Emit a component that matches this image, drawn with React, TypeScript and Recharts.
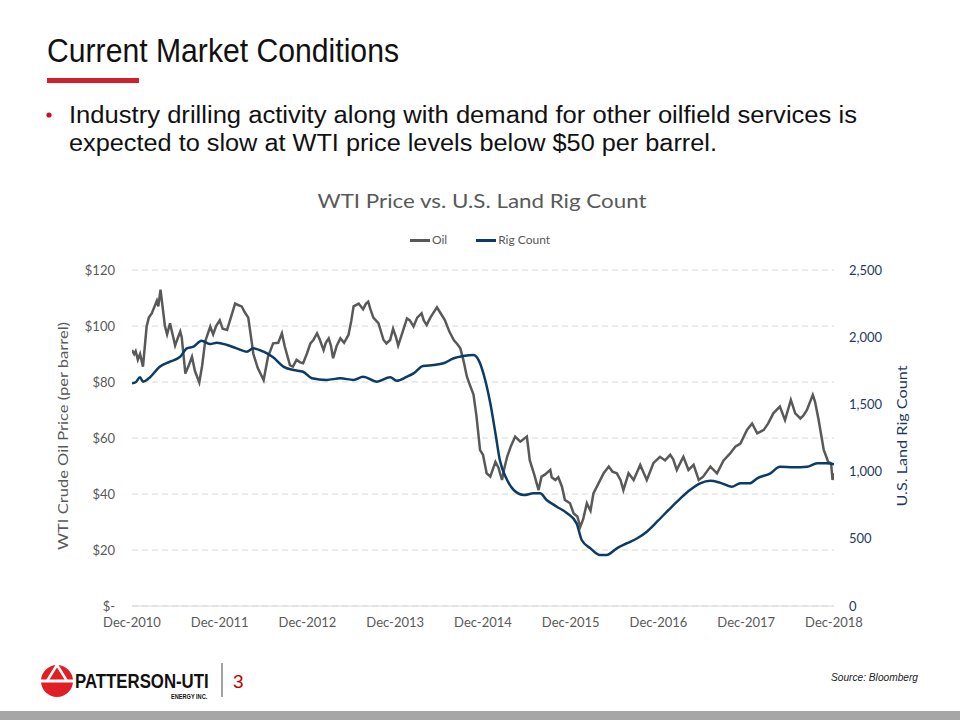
import React from "react";
import { LineChart, Line, XAxis, YAxis, CartesianGrid, Legend } from "recharts";

// x values are months since Dec-2010
const xTickLabels = ["Dec-2010", "Dec-2011", "Dec-2012", "Dec-2013", "Dec-2014", "Dec-2015", "Dec-2016", "Dec-2017", "Dec-2018"];
const xTicks = [0, 12, 24, 36, 48, 60, 72, 84, 96];
const priceTicks = [0, 20, 40, 60, 80, 100, 120];
const rigTicks = [0, 500, 1000, 1500, 2000, 2500];

const oilMonths = [0,0.3,0.5,0.8,1.1,1.5,2.0,2.3,2.7,3.4,3.6,3.9,4.5,4.8,5.2,5.9,6.3,6.6,6.8,7.3,7.7,8.2,8.6,9.2,9.6,10.0,10.7,11.1,11.5,12.0,12.4,13.0,13.4,14.1,14.5,15.0,15.4,15.9,16.6,17.2,18.0,18.6,19.3,20.0,20.5,20.9,21.6,22.0,22.5,23.0,23.4,23.9,24.4,24.8,25.3,25.7,26.2,26.5,26.9,27.2,27.5,28.0,28.5,29.0,29.6,30.0,30.3,31.0,31.6,32.0,32.3,32.6,33.0,33.7,34.4,34.8,35.3,35.7,36.1,36.4,36.9,37.6,38.0,38.5,39.0,39.6,39.9,40.3,40.8,41.7,42.1,42.8,43.4,44.0,44.5,44.9,45.3,45.8,46.2,46.7,47.1,47.6,48.0,48.5,49.0,49.7,50.1,50.6,50.9,51.3,51.8,52.4,53.1,54.0,54.4,55.0,55.6,56.0,56.5,57.2,57.4,57.9,58.3,58.8,59.2,59.9,60.4,60.9,61.3,61.7,62.2,62.7,63.1,63.8,64.5,65.2,65.7,66.3,66.8,67.2,67.9,68.6,69.5,70.4,71.3,72.2,72.9,73.6,74.0,74.5,75.4,76.1,76.8,77.5,78.1,79.1,80.0,80.9,81.8,82.5,83.2,84.1,84.8,85.5,86.4,87.0,87.7,88.6,89.3,90.1,90.7,91.4,91.8,92.3,93.1,93.4,93.9,94.6,95.2,95.6,95.8,96.0];
const oilPrices = [91.4,90,91,88,90,85.5,99.8,103,104.5,109,107,113,100,97,101,93,96,98,96,83,85.5,89,84,79.8,86,94.4,99.8,97,100,102,99,98.6,102,108,107.5,107,105,103,90,85,80.7,89,93.8,94,97.4,92.6,86,85.5,87.9,87,86.7,90,93.8,95,97.4,95,91.4,94,95.6,93,88.5,93,95.6,94,96.8,102,107,108,106,108,108.7,106,103,101,95,93.8,95,99,96,93,97,102.7,102,99.8,103,104.5,102,100.4,103,106.7,105,102,98,95,93.5,92,88,81.9,79,75.5,68,55.7,54,47.4,46.2,51.5,49.5,45,49,53.3,57,60.5,58.7,60.5,52,47,41.4,46.2,47,48.6,46,45,46,42.6,37.9,36.7,33,32,28.3,31,36.7,34,40.2,43.8,47.4,49.8,48,47.4,45,41.4,47.4,45,50.4,45,51,53.3,52,54,52.5,48.6,53.3,48.6,50.4,45,46.2,49.8,47.4,52,54.5,56.9,58,62.9,65.2,61.7,62.9,65.2,68.8,71.2,66.4,73.6,68.8,67,68,70,75.4,73,66.4,55.7,51.5,51,45,47.4];

const rigMonths = [0,0.5,1.1,1.5,2.3,3.8,5.2,6.6,7.5,8.4,9.5,10.7,11.6,13.0,14.3,15.7,16.6,18.0,19.3,20.7,22.1,23.4,24.6,26.6,28.5,30.3,31.6,33.5,35.3,36.2,37.6,38.5,39.8,41.2,42.6,44.0,45.3,46.7,47.4,48.3,49.0,49.7,50.3,51.3,52.2,53.6,54.9,55.8,56.7,58.1,59.5,60.8,61.5,62.7,64.0,64.9,66.3,67.7,69.1,70.4,71.8,73.6,75.0,76.3,77.7,79.1,80.4,82.0,83.2,84.5,85.5,87.3,88.6,90.5,92.3,93.7,95.0,96.0];
const rigCounts = [1657,1665,1702,1669,1694,1781,1818,1855,1917,1929,1974,1949,1959,1942,1917,1892,1917,1892,1850,1781,1756,1743,1694,1682,1694,1682,1706,1669,1702,1676,1706,1731,1786,1793,1806,1843,1860,1868,1830,1682,1508,1285,1086,938,863,826,838,838,789,739,690,615,491,429,379,379,429,467,504,553,627,727,801,863,913,932,918,888,913,913,950,987,1036,1032,1036,1062,1062,1054];

const oilData = oilMonths.map((m, i) => ({ m, oil: oilPrices[i] }));
const rigData = rigMonths.map((m, i) => ({ m, rig: rigCounts[i] }));

const OIL_COLOR = "#595959";
const RIG_COLOR = "#0B3B66";
const AXIS_FONT = "Lato, 'Open Sans', sans-serif";

const legendItems = [
  { name: "Oil", color: OIL_COLOR },
  { name: "Rig Count", color: RIG_COLOR },
];

const renderLegend = () => (
  <div style={{ display: "flex", justifyContent: "center", gap: 29, fontFamily: AXIS_FONT, fontSize: 12, color: "#595959", lineHeight: "16px" }}>
    {legendItems.map((s) => (
      <span key={s.name} style={{ display: "flex", alignItems: "center" }}>
        <span style={{ display: "inline-block", width: 20, height: 0, borderTop: `3px solid ${s.color}`, marginRight: 2 }} />
        {s.name}
      </span>
    ))}
  </div>
);

const fmtPrice = (v: number) => (v === 0 ? "$-" : `$${v}`);
const fmtRig = (v: number) => v.toLocaleString("en-US");
const fmtMonth = (v: number) => xTickLabels[xTicks.indexOf(v)] ?? "";

export default function App() {
  const headFont = "'Liberation Sans Narrow', 'Liberation Sans', Arial, sans-serif";
  return (
    <div style={{ position: "absolute", left: 0, top: 0, width: 960, height: 720, background: "#fff", overflow: "hidden" }}>
      <LineChart width={960} height={720} margin={{ top: 270, right: 66, bottom: 84, left: 72 }}>
        <CartesianGrid vertical={false} stroke="#D9D9D9" strokeDasharray="6 4" />
        <XAxis
          dataKey="m"
          type="number"
          domain={[0, 96]}
          ticks={xTicks}
          tickFormatter={fmtMonth}
          allowDataOverflow
          height={30}
          tickLine={false}
          tickSize={0}
          tickMargin={12}
          axisLine={{ stroke: "#D9D9D9" }}
          tick={{ fill: "#595959", fontSize: 13, fontFamily: AXIS_FONT }}
        />
        <YAxis
          domain={[0, 120]}
          ticks={priceTicks}
          tickFormatter={fmtPrice}
          width={60}
          axisLine={false}
          tickLine={false}
          tickSize={0}
          tickMargin={17}
          tick={{ fill: "#595959", fontSize: 13, fontFamily: AXIS_FONT }}
        />
        <YAxis
          yAxisId="right"
          orientation="right"
          domain={[0, 2500]}
          ticks={rigTicks}
          tickFormatter={fmtRig}
          width={60}
          axisLine={false}
          tickLine={false}
          tickSize={0}
          tickMargin={15}
          tick={{ fill: "#1F3A5F", fontSize: 13, fontFamily: AXIS_FONT }}
        />
        <Legend
          layout="horizontal"
          verticalAlign="middle"
          align="center"
          content={renderLegend}
          wrapperStyle={{ top: 232, left: 0, width: 960 }}
        />
        <Line
          data={oilData}
          dataKey="oil"
          name="Oil"
          type="linear"
          stroke={OIL_COLOR}
          strokeWidth={2.5}
          dot={false}
          isAnimationActive={false}
        />
        <Line
          data={rigData}
          dataKey="rig"
          name="Rig Count"
          yAxisId="right"
          type="monotone"
          stroke={RIG_COLOR}
          strokeWidth={2.5}
          dot={false}
          isAnimationActive={false}
        />
      </LineChart>
      <svg width={960} height={720} style={{ position: "absolute", left: 0, top: 0, pointerEvents: "none" }}>
        <text x={47} y={62} fontFamily={headFont} fontSize={33} textLength={352} lengthAdjust="spacingAndGlyphs" fill="#111">
          Current Market Conditions
        </text>
        <rect x={47} y={78} width={92} height={5} fill="#D0202E" />
        <circle cx={49} cy={115} r={2.6} fill="#C8102E" />
        <text x={69} y={123} fontFamily={headFont} fontSize={23} textLength={788} lengthAdjust="spacingAndGlyphs" fill="#111">
          Industry drilling activity along with demand for other oilfield services is
        </text>
        <text x={69} y={151} fontFamily={headFont} fontSize={23} textLength={648} lengthAdjust="spacingAndGlyphs" fill="#111">
          expected to slow at WTI price levels below $50 per barrel.
        </text>
        <text x={482} y={208} textAnchor="middle" fontFamily={AXIS_FONT} fontSize={20} textLength={329} lengthAdjust="spacingAndGlyphs" fill="#595959">
          WTI Price vs. U.S. Land Rig Count
        </text>
        <text transform="translate(68 436) rotate(-90)" textAnchor="middle" fontFamily={AXIS_FONT} fontSize={14} textLength={228} lengthAdjust="spacingAndGlyphs" fill="#595959">
          WTI Crude Oil Price (per barrel)
        </text>
        <text transform="translate(907 436) rotate(-90)" textAnchor="middle" fontFamily={AXIS_FONT} fontSize={14} textLength={141} lengthAdjust="spacingAndGlyphs" fill="#1F3A5F">
          U.S. Land Rig Count
        </text>
        {/* footer logo */}
        <circle cx={57} cy={681} r={16} fill="#E01E26" />
        <path d="M57 665 L47 681 M57 665 L67 681" stroke="#fff" strokeWidth={2.5} />
        <line x1={41} y1={681} x2={73} y2={681} stroke="#fff" strokeWidth={3} />
        <text transform="translate(75 688) scale(0.8 1)" fontFamily={headFont} fontWeight={900} fontSize={21} fill="#111">
          PATTERSON-UTI
        </text>
        <text transform="translate(171 699) scale(0.8 1)" fontFamily={headFont} fontWeight={700} fontSize={7} fill="#111">
          ENERGY INC.
        </text>
        <line x1={222} y1={663} x2={222} y2={697} stroke="#444" strokeWidth={1} />
        <text x={233} y={688} fontFamily={headFont} fontSize={19} fill="#C00000">
          3
        </text>
        <text x={831} y={681} fontFamily={headFont} fontStyle="italic" fontSize={10} textLength={87} lengthAdjust="spacingAndGlyphs" fill="#222">
          Source: Bloomberg
        </text>
        <rect x={0} y={711} width={960} height={9} fill="#A6A6A6" />
      </svg>
    </div>
  );
}
